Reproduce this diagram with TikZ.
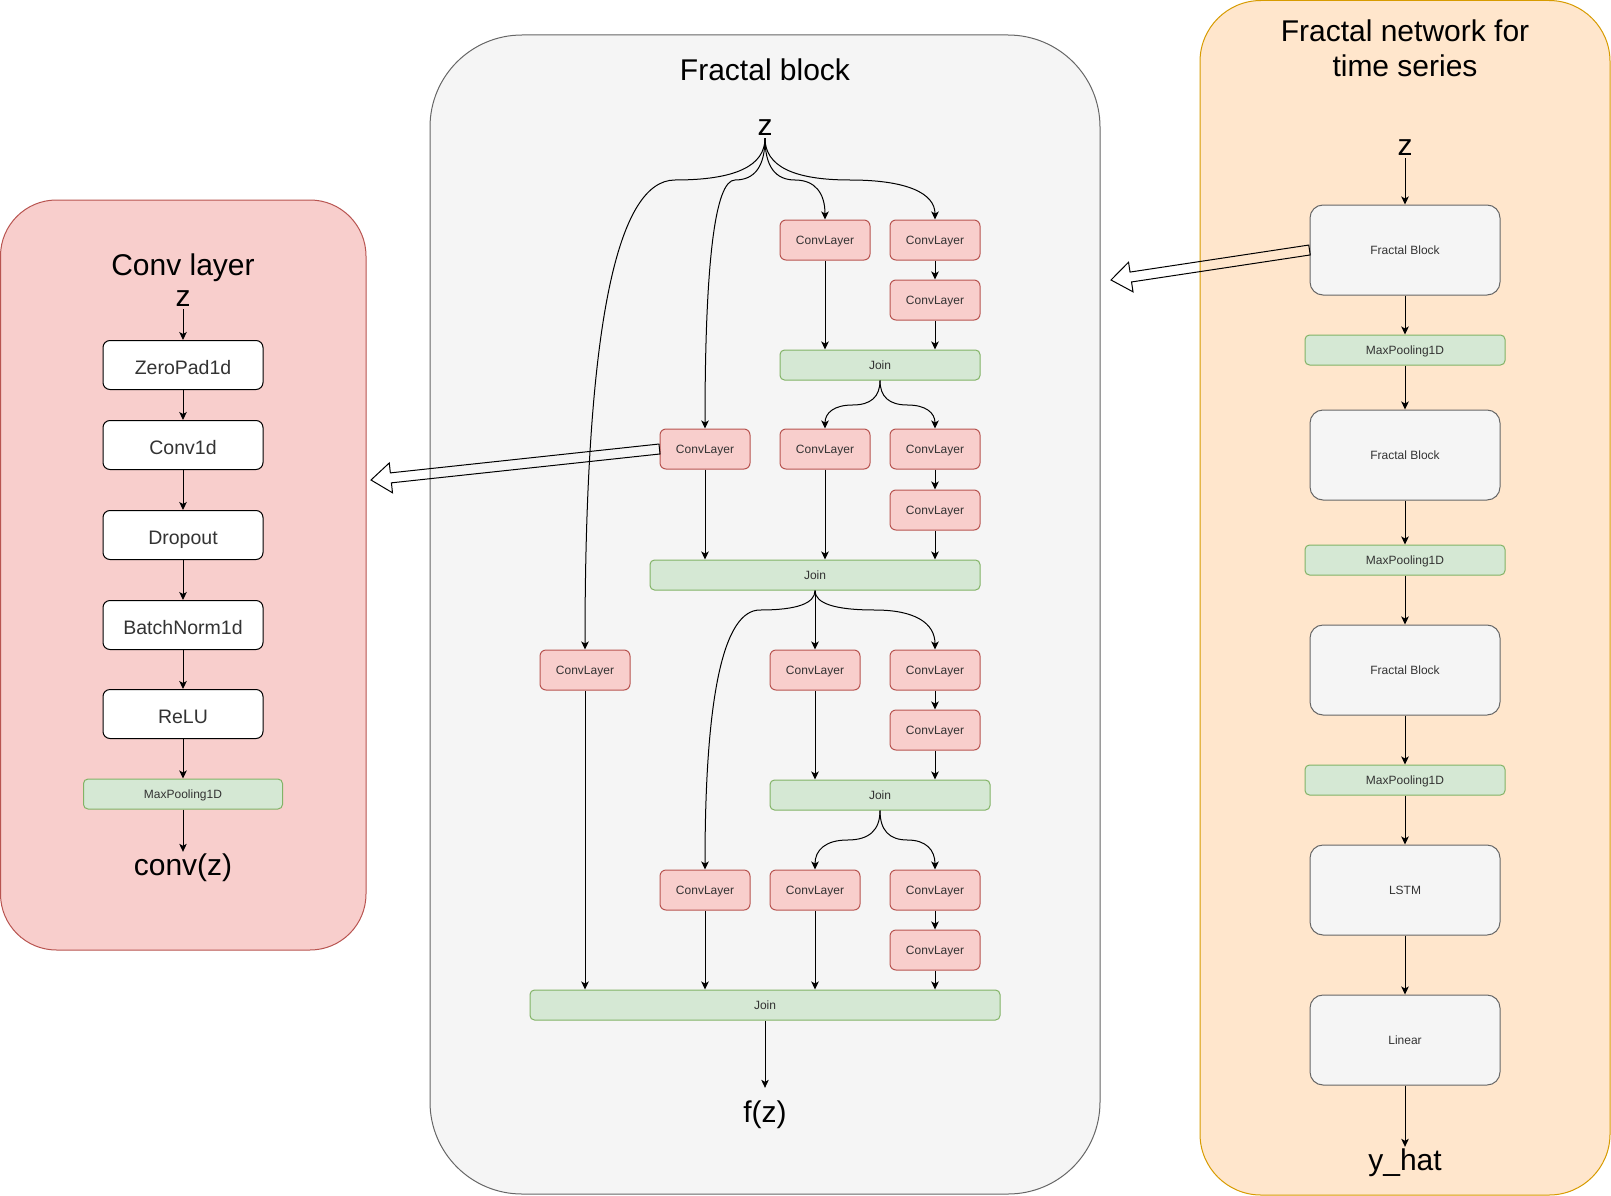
\documentclass[tikz,border=0pt]{standalone}
\usepackage{fontspec}
\setmainfont{Liberation Sans}
\usetikzlibrary{arrows.meta,calc}
\definecolor{convfill}{HTML}{F8CECC}
\definecolor{convline}{HTML}{B85450}
\definecolor{joinfill}{HTML}{D5E8D4}
\definecolor{joinline}{HTML}{82B366}
\definecolor{greyfill}{HTML}{F5F5F5}
\definecolor{greyline}{HTML}{666666}
\definecolor{orangefill}{HTML}{FFE6CC}
\definecolor{orangeline}{HTML}{D79B00}
\definecolor{labeltext}{HTML}{333333}
% curved fork: start, y of the flat part, end
\newcommand{\branch}[3]{\coordinate (bs) at (#1 |- 0,#2); \coordinate (be) at (#3 |- 0,#2);
  \coordinate (bm) at ($(bs)!0.5!(be)$);
  \draw[arr] (#1) .. controls ($(#1)!0.667!(bs)$) and ($(bm)!0.667!(bs)$) .. (bm)
    .. controls ($(bm)!0.667!(be)$) and ($(#3)!0.667!(be)$) .. (#3);}
% hollow wide arrow: start, tip
\newcommand{\fatarrow}[2]{\coordinate (hb) at ($(#2)!20pt!(#1)$);
  \draw[line width=1pt,line join=miter] ($(#1)!5pt!90:(#2)$) -- ($(hb)!5pt!-90:(#1)$) -- ($(hb)!15pt!-90:(#1)$) -- (#2)
    -- ($(hb)!15pt!90:(#1)$) -- ($(hb)!5pt!90:(#1)$) -- ($(#1)!5pt!-90:(#2)$) -- cycle;}
\begin{document}
\begin{tikzpicture}[x=1pt,y=-1pt,line join=round,
  arr/.style={-{Stealth[length=8pt,width=7.5pt,inset=2pt]},line width=1pt},
  bigtext/.style={font=\fontsize{30}{35}\selectfont,inner sep=2pt},
  small/.style={font=\fontsize{12}{14}\selectfont,text=labeltext,text height=9.6pt,text depth=1.2pt},
  convbox/.style={small,draw=convline,fill=convfill,line width=1pt,rounded corners=6pt,minimum width=90pt,minimum height=40pt},
  joinbox/.style={small,draw=joinline,fill=joinfill,line width=1pt,rounded corners=4.5pt,minimum height=30pt},
  blockbox/.style={small,draw=greyline,fill=greyfill,line width=1pt,rounded corners=13pt,minimum width=190pt,minimum height=90pt},
  layerbox/.style={font=\fontsize{19.5}{22}\selectfont,text=labeltext,text height=18.5pt,text depth=0pt,draw=black,fill=white,line width=1pt,rounded corners=7pt,minimum width=160pt,minimum height=49pt}]
\useasboundingbox (0,0) rectangle (1611,1196);
% panels
\draw[fill=convfill,draw=convline,line width=1pt,rounded corners=56pt] (0.5,200) rectangle (366,950);
\draw[fill=greyfill,draw=greyline,line width=1pt,rounded corners=92pt] (430,35) rectangle (1100,1194);
\draw[fill=orangefill,draw=orangeline,line width=1pt,rounded corners=61pt] (1200,0.5) rectangle (1610,1195);

% conv layer
\node[bigtext] (convtitle) at (183,268) {Conv layer};
\node[bigtext] (zconv) at (183,299) {z};
\node[layerbox] (zpad) at (183,365) {ZeroPad1d};
\node[layerbox] (conv) at (183,445) {Conv1d};
\node[layerbox] (drop) at (183,535) {Dropout};
\node[layerbox] (bnorm) at (183,625) {BatchNorm1d};
\node[layerbox] (relu) at (183,714) {ReLU};
\node[joinbox,minimum width=199pt] (cpool) at (183,794) {MaxPooling1D};
\node[bigtext] (convz) at (183,868) {conv(z)};
\foreach \a/\b in {zconv/zpad,zpad/conv,conv/drop,drop/bnorm,bnorm/relu,relu/cpool,cpool/convz}
  \draw[arr] (\a) -- (\b);

% fractal block
\node[bigtext] (fractitle) at (765,70) {Fractal block};
\node[bigtext] (zfrac) at (765,128) {z};
\node[convbox] (c31) at (825,240) {ConvLayer};
\node[convbox] (c41) at (935,240) {ConvLayer};
\node[convbox] (c42) at (935,300) {ConvLayer};
\node[joinbox,minimum width=200pt] (j1) at (880,365) {Join};
\node[convbox] (c23) at (705,449) {ConvLayer};
\node[convbox] (c33) at (825,449) {ConvLayer};
\node[convbox] (c43) at (935,449) {ConvLayer};
\node[convbox] (c44) at (935,510) {ConvLayer};
\node[joinbox,minimum width=330pt] (j2) at (815,575) {Join};
\node[convbox] (c15) at (585,670) {ConvLayer};
\node[convbox] (c35) at (815,670) {ConvLayer};
\node[convbox] (c45) at (935,670) {ConvLayer};
\node[convbox] (c46) at (935,730) {ConvLayer};
\node[joinbox,minimum width=220pt] (j3) at (880,795) {Join};
\node[convbox] (c27) at (705,890) {ConvLayer};
\node[convbox] (c37) at (815,890) {ConvLayer};
\node[convbox] (c47) at (935,890) {ConvLayer};
\node[convbox] (c48) at (935,950) {ConvLayer};
\node[joinbox,minimum width=470pt] (j4) at (765,1005) {Join};
\node[bigtext] (fz) at (765,1115) {f(z)};

\branch{zfrac.south}{180}{c15.north}
\branch{zfrac.south}{180}{c23.north}
\branch{zfrac.south}{180}{c31.north}
\branch{zfrac.south}{180}{c41.north}
\branch{j1.south}{405}{c33.north}
\branch{j1.south}{405}{c43.north}
\branch{j2.south}{610}{c27.north}
\branch{j2.south}{610}{c45.north}
\branch{j3.south}{840}{c37.north}
\branch{j3.south}{840}{c47.north}
\foreach \a/\b in {c41/c42,c43/c44,c45/c46,c47/c48,j2/c35}
  \draw[arr] (\a) -- (\b);
\foreach \a/\b in {c31/j1,c42/j1,c23/j2,c33/j2,c44/j2,c35/j3,c46/j3,c15/j4,c27/j4,c37/j4,c48/j4}
  \draw[arr] (\a) -- (\a |- \b.north);
\draw[arr,shorten >=11pt] (j4) -- (fz);

% fractal network
\node[bigtext,align=center] (nettitle) at (1405,48.5) {Fractal network for\\time series};
\node[bigtext] (znet) at (1405,148) {z};
\node[blockbox] (fb1) at (1405,250) {Fractal Block};
\node[joinbox,minimum width=200pt] (mp1) at (1405,350) {MaxPooling1D};
\node[blockbox] (fb2) at (1405,455) {Fractal Block};
\node[joinbox,minimum width=200pt] (mp2) at (1405,560) {MaxPooling1D};
\node[blockbox] (fb3) at (1405,670) {Fractal Block};
\node[joinbox,minimum width=200pt] (mp3) at (1405,780) {MaxPooling1D};
\node[blockbox] (lstm) at (1405,890) {LSTM};
\node[blockbox] (lin) at (1405,1040) {Linear};
\node[bigtext] (yhat) at (1405,1163) {y\_hat};
\foreach \a/\b in {znet/fb1,fb1/mp1,mp1/fb2,fb2/mp2,mp2/fb3,fb3/mp3,mp3/lstm,lstm/lin,lin/yhat}
  \draw[arr] (\a) -- (\b);

% zoom arrows
\coordinate (tipfb) at (1111,280);
\coordinate (tipconv) at (371,480);
\fatarrow{fb1.west}{tipfb}
\fatarrow{c23.west}{tipconv}
\end{tikzpicture}
\end{document}
